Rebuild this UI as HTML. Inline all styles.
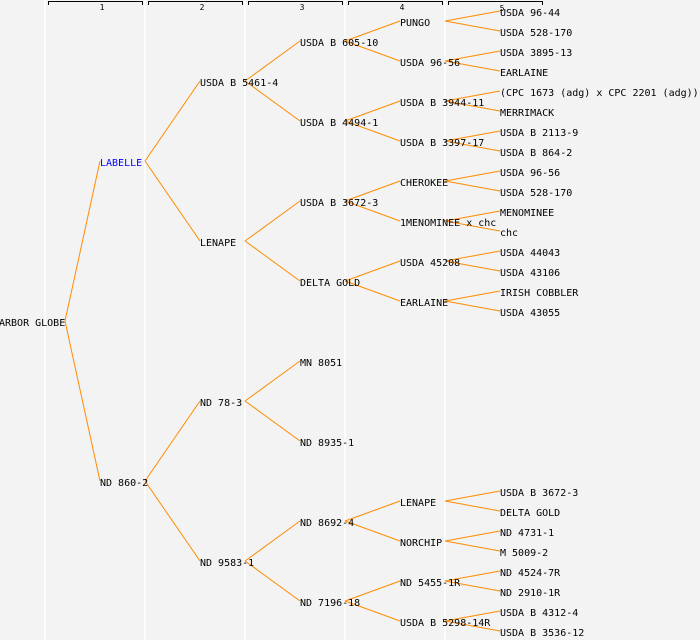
<!DOCTYPE html>
<html><head><style>body{margin:0;background:#f3f3f3}svg{display:block}text{font-family:"DejaVu Sans Mono","Liberation Mono",monospace;font-size:10px;fill:#000}</style></head><body>
<svg width="700" height="640" xmlns="http://www.w3.org/2000/svg">
<rect width="700" height="640" fill="#f3f3f3"/>
<g stroke="#fff" stroke-width="1.5">
<line x1="45" y1="0" x2="45" y2="640"/><line x1="145" y1="0" x2="145" y2="640"/><line x1="245" y1="0" x2="245" y2="640"/><line x1="345" y1="0" x2="345" y2="640"/><line x1="445" y1="0" x2="445" y2="640"/>
</g>
<g stroke="#000" stroke-width="1" fill="none">
<path d="M48.5 5V1.5H142.5V5"/><path d="M148.5 5V1.5H242.5V5"/><path d="M248.5 5V1.5H342.5V5"/><path d="M348.5 5V1.5H442.5V5"/><path d="M448.5 5V1.5H542.5V5"/>
</g>
<g text-anchor="middle"><text x="102" y="10" style="font-size:8px">1</text><text x="202" y="10" style="font-size:8px">2</text><text x="302" y="10" style="font-size:8px">3</text><text x="402" y="10" style="font-size:8px">4</text><text x="502" y="11" style="font-size:8px">5</text></g>
<g stroke="#ff8c00" stroke-width="1" fill="none">
<line x1="65" y1="321" x2="100" y2="161"/><line x1="65" y1="321" x2="100" y2="481"/>
<line x1="145" y1="161" x2="200" y2="81"/><line x1="145" y1="161" x2="200" y2="241"/>
<line x1="145" y1="481" x2="200" y2="401"/><line x1="145" y1="481" x2="200" y2="561"/>
<line x1="245" y1="81" x2="300" y2="41"/><line x1="245" y1="81" x2="300" y2="121"/>
<line x1="245" y1="241" x2="300" y2="201"/><line x1="245" y1="241" x2="300" y2="281"/>
<line x1="245" y1="401" x2="300" y2="361"/><line x1="245" y1="401" x2="300" y2="441"/>
<line x1="245" y1="561" x2="300" y2="521"/><line x1="245" y1="561" x2="300" y2="601"/>
<line x1="345" y1="41" x2="400" y2="21"/><line x1="345" y1="41" x2="400" y2="61"/>
<line x1="345" y1="121" x2="400" y2="101"/><line x1="345" y1="121" x2="400" y2="141"/>
<line x1="345" y1="201" x2="400" y2="181"/><line x1="345" y1="201" x2="400" y2="221"/>
<line x1="345" y1="281" x2="400" y2="261"/><line x1="345" y1="281" x2="400" y2="301"/>
<line x1="345" y1="521" x2="400" y2="501"/><line x1="345" y1="521" x2="400" y2="541"/>
<line x1="345" y1="601" x2="400" y2="581"/><line x1="345" y1="601" x2="400" y2="621"/>
<line x1="445" y1="21" x2="500" y2="11"/><line x1="445" y1="21" x2="500" y2="31"/>
<line x1="445" y1="61" x2="500" y2="51"/><line x1="445" y1="61" x2="500" y2="71"/>
<line x1="445" y1="101" x2="500" y2="91"/><line x1="445" y1="101" x2="500" y2="111"/>
<line x1="445" y1="141" x2="500" y2="131"/><line x1="445" y1="141" x2="500" y2="151"/>
<line x1="445" y1="181" x2="500" y2="171"/><line x1="445" y1="181" x2="500" y2="191"/>
<line x1="445" y1="221" x2="500" y2="211"/><line x1="445" y1="221" x2="500" y2="231"/>
<line x1="445" y1="261" x2="500" y2="251"/><line x1="445" y1="261" x2="500" y2="271"/>
<line x1="445" y1="301" x2="500" y2="291"/><line x1="445" y1="301" x2="500" y2="311"/>
<line x1="445" y1="501" x2="500" y2="491"/><line x1="445" y1="501" x2="500" y2="511"/>
<line x1="445" y1="541" x2="500" y2="531"/><line x1="445" y1="541" x2="500" y2="551"/>
<line x1="445" y1="581" x2="500" y2="571"/><line x1="445" y1="581" x2="500" y2="591"/>
<line x1="445" y1="621" x2="500" y2="611"/><line x1="445" y1="621" x2="500" y2="631"/>
</g>
<g>
<text x="-1" y="326">ARBOR GLOBE</text>
<text x="100" y="166" style="fill:#0000ff">LABELLE</text>
<text x="100" y="486">ND 860-2</text>
<text x="200" y="86">USDA B 5461-4</text><text x="200" y="246">LENAPE</text><text x="200" y="406">ND 78-3</text><text x="200" y="566">ND 9583-1</text>
<text x="300" y="46">USDA B 605-10</text><text x="300" y="126">USDA B 4494-1</text><text x="300" y="206">USDA B 3672-3</text><text x="300" y="286">DELTA GOLD</text><text x="300" y="366">MN 8051</text><text x="300" y="446">ND 8935-1</text><text x="300" y="526">ND 8692-4</text><text x="300" y="606">ND 7196-18</text>
<text x="400" y="26">PUNGO</text><text x="400" y="66">USDA 96-56</text><text x="400" y="106">USDA B 3944-11</text><text x="400" y="146">USDA B 3397-17</text><text x="400" y="186">CHEROKEE</text><text x="400" y="226">1MENOMINEE x chc</text><text x="400" y="266">USDA 45208</text><text x="400" y="306">EARLAINE</text><text x="400" y="506">LENAPE</text><text x="400" y="546">NORCHIP</text><text x="400" y="586">ND 5455-1R</text><text x="400" y="626">USDA B 5298-14R</text>
<text x="500" y="16">USDA 96-44</text><text x="500" y="36">USDA 528-170</text><text x="500" y="56">USDA 3895-13</text><text x="500" y="76">EARLAINE</text><text x="500" y="96">(CPC 1673 (adg) x CPC 2201 (adg))</text><text x="500" y="116">MERRIMACK</text><text x="500" y="136">USDA B 2113-9</text><text x="500" y="156">USDA B 864-2</text><text x="500" y="176">USDA 96-56</text><text x="500" y="196">USDA 528-170</text><text x="500" y="216">MENOMINEE</text><text x="500" y="236">chc</text><text x="500" y="256">USDA 44043</text><text x="500" y="276">USDA 43106</text><text x="500" y="296">IRISH COBBLER</text><text x="500" y="316">USDA 43055</text><text x="500" y="496">USDA B 3672-3</text><text x="500" y="516">DELTA GOLD</text><text x="500" y="536">ND 4731-1</text><text x="500" y="556">M 5009-2</text><text x="500" y="576">ND 4524-7R</text><text x="500" y="596">ND 2910-1R</text><text x="500" y="616">USDA B 4312-4</text><text x="500" y="636">USDA B 3536-12</text>
</g>
</svg>
</body></html>
